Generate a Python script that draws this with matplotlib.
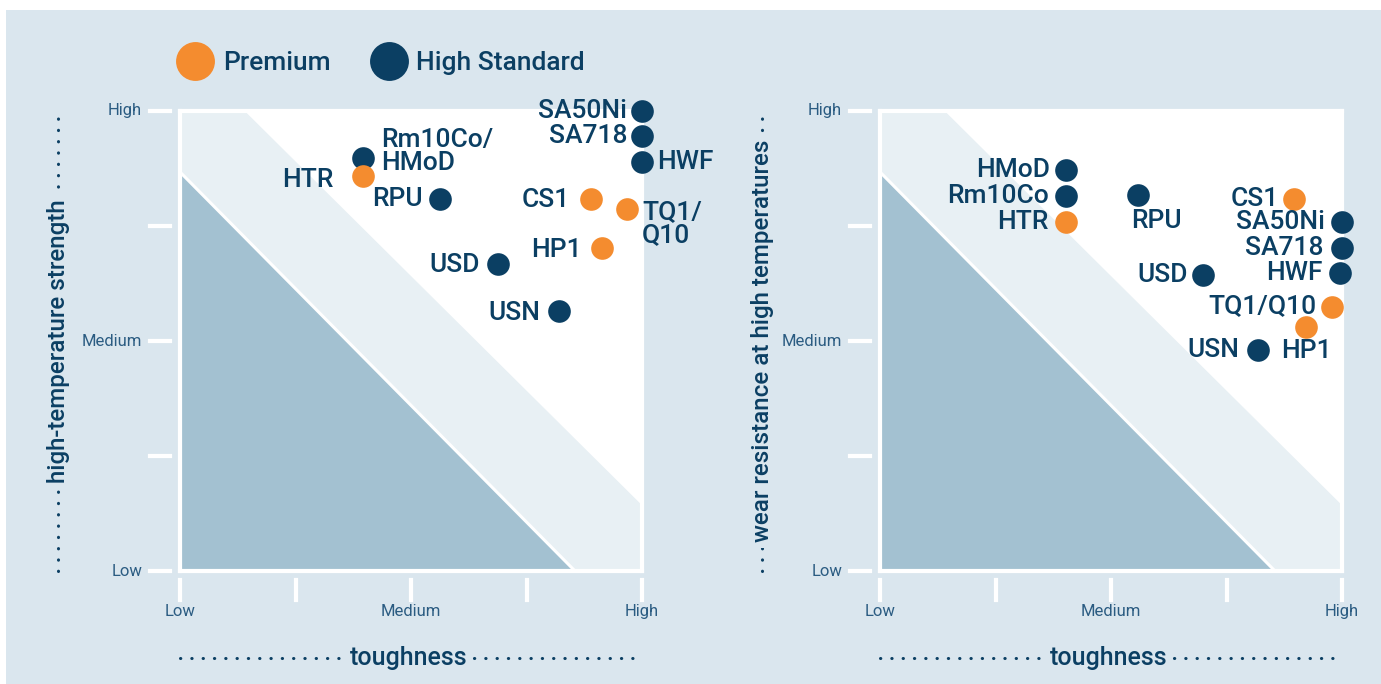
import matplotlib.pyplot as plt
import matplotlib.transforms as mtransforms
from matplotlib.patches import Polygon, Rectangle
from matplotlib.lines import Line2D

# colours
BG = '#dae6ee'
NAVY = '#0b3f63'
ORANGE = '#f48c2f'
TICKCOL = '#2b5c82'
DARK = '#a3c1d1'
BAND = '#e8f0f4'

plt.rcParams['font.family'] = ['Roboto', 'Liberation Sans', 'DejaVu Sans']
LABFONT = dict(family=['Roboto', 'Liberation Sans'], fontweight='medium')

# data: position on a 0 (low) .. 1 (high) scale
tick_labels = ['Low', '', 'Medium', '', 'High']

left_names = ['SA50Ni', 'SA718', 'HWF', 'Rm10Co/\nHMoD', 'HTR', 'RPU', 'CS1',
              'TQ1/\nQ10', 'HP1', 'USD', 'USN']
left_x = [1.0, 1.0, 1.0, 0.396, 0.396, 0.563, 0.890, 0.968, 0.913, 0.688, 0.820]
left_y = [1.0, 0.946, 0.889, 0.898, 0.859, 0.809, 0.809, 0.787, 0.702, 0.667, 0.565]
left_premium = [False, False, False, False, True, False, True, True, True, False, False]

right_names = ['HMoD', 'Rm10Co', 'HTR', 'RPU', 'CS1', 'SA50Ni', 'SA718', 'HWF',
               'USD', 'TQ1/Q10', 'HP1', 'USN']
right_x = [0.402, 0.402, 0.402, 0.559, 0.896, 1.0, 1.0, 0.996, 0.700, 0.978, 0.922, 0.819]
right_y = [0.872, 0.815, 0.759, 0.817, 0.809, 0.759, 0.702, 0.648, 0.643, 0.574, 0.530, 0.480]
right_premium = [False, False, True, False, True, False, False, False, False, True, True, False]

# label placement (pixel offsets, alignment)
left_lab = [(-15, 0, 'right'), (-15, 0, 'right'), (15, 0, 'left'), (18, 6, 'left'),
            (-29, -4, 'right'), (-17, 0, 'right'), (-21, -1, 'right'), (15, -15, 'left'),
            (-20, -2, 'right'), (-18, -1, 'right'), (-18, -2, 'right')]
right_lab = [(-16, 0, 'right'), (-17, 0, 'right'), (-17, 0, 'right'), (18, -26, 'center'),
             (-15, 0, 'right'), (-17, 0, 'right'), (-18, 0, 'right'), (-18, 0, 'right'),
             (-16, 0, 'right'), (-15, 1, 'right'), (0, -24, 'center'), (-19, 0, 'right')]

# background zones
dark_tri = [(0, 0.867), (0, 0), (0.855, 0)]
band = [(0, 1), (0.14, 1), (1, 0.143), (1, 0), (0.855, 0), (0, 0.867)]

W, H = 1381, 684
fig = plt.figure(figsize=(W / 100, H / 100), dpi=100)
fig.patch.set_facecolor('white')
fig.patches.append(Rectangle((6 / W, 0), 1, 1 - 10 / H, transform=fig.transFigure,
                             facecolor=BG, edgecolor='none', zorder=-10))


def make_panel(left_px, names, xs, ys, prem, labs, ylabel):
    ax = fig.add_axes([left_px / W, 113 / H, 462 / W, 460 / H])
    ax.set_xlim(0, 1)
    ax.set_ylim(0, 1)
    ax.set_facecolor('white')
    ax.add_patch(Polygon(band, closed=True, facecolor=BAND, edgecolor='none', zorder=0))
    ax.add_patch(Polygon(dark_tri, closed=True, facecolor=DARK, edgecolor='white',
                         lw=2.2, zorder=1))
    for s in ax.spines.values():
        s.set_color('white')
        s.set_linewidth(3)
        s.set_zorder(2)
    ax.set_xticks([])
    ax.set_yticks([])

    # ticks drawn off the frame
    ty = mtransforms.blended_transform_factory(ax.transAxes, ax.transData)
    tx = mtransforms.blended_transform_factory(ax.transData, ax.transAxes)
    for i, t in enumerate(tick_labels):
        v = i / 4
        ax.add_line(Line2D([-0.065, -0.022], [v, v], transform=ty, color='white',
                           lw=3, clip_on=False))
        ax.add_line(Line2D([v, v], [-0.02, -0.063], transform=tx, color='white',
                           lw=3, clip_on=False))
        if t:
            ax.text(-0.082, v, t, transform=ty, ha='right', va='center', fontsize=12,
                    color=TICKCOL)
            ax.text(v, -0.087, t, transform=tx, ha='center', va='center', fontsize=12,
                    color=TICKCOL)

    # points and labels
    for n, x, y, p, (dx, dy, ha) in zip(names, xs, ys, prem, labs):
        ax.plot(x, y, 'o', ms=16.3, color=ORANGE if p else NAVY, mec='none',
                clip_on=False, zorder=5)
        ax.annotate(n, (x, y), xytext=(dx, dy), textcoords='offset pixels',
                    ha=ha, va='center', fontsize=19, color=NAVY,
                    linespacing=0.95, zorder=6, annotation_clip=False, **LABFONT)

    # dotted axis titles
    ax.add_line(Line2D([0, 1], [-0.19, -0.19], transform=ax.transAxes, color=NAVY,
                       lw=2.2, ls=(0, (0.1, 3.6)), dash_capstyle='round', clip_on=False))
    ax.text(0.494, -0.19, 'toughness', transform=ax.transAxes, ha='center', va='center',
            fontsize=18, color=NAVY, bbox=dict(facecolor=BG, edgecolor='none', pad=3),
            **LABFONT)
    xl = -122 / 462 if left_px == 180 else -118 / 462
    ax.add_line(Line2D([xl, xl], [0, 1], transform=ax.transAxes, color=NAVY,
                       lw=2.2, ls=(0, (0.1, 3.6)), dash_capstyle='round', clip_on=False))
    ax.text(xl, 0.5, ylabel, transform=ax.transAxes, ha='center', va='center',
            rotation=90, fontsize=17.4, color=NAVY,
            bbox=dict(facecolor=BG, edgecolor='none', pad=4), **LABFONT)
    return ax


make_panel(180, left_names, left_x, left_y, left_premium, left_lab,
           'high-temperature strength')
make_panel(880, right_names, right_x, right_y, right_premium, right_lab,
           'wear resistance at high temperatures')

# legend
fig.add_artist(Line2D([195 / W], [1 - 61 / H], marker='o', ms=28, color=ORANGE, mec='none'))
fig.text(223 / W, 1 - 63 / H, 'Premium', ha='left', va='center', fontsize=19,
         color=NAVY, **LABFONT)
fig.add_artist(Line2D([389 / W], [1 - 61 / H], marker='o', ms=28, color=NAVY, mec='none'))
fig.text(416 / W, 1 - 63 / H, 'High Standard', ha='left', va='center', fontsize=19,
         color=NAVY, **LABFONT)

fig.savefig('out.png', dpi=100, facecolor=fig.get_facecolor())
